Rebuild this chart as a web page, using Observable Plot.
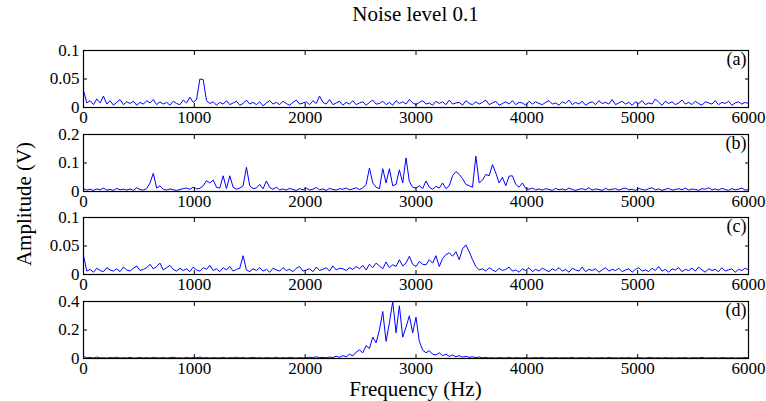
<!DOCTYPE html>
<html><head><meta charset="utf-8">
<script src="https://cdn.jsdelivr.net/npm/d3@7"></script>
<script src="https://cdn.jsdelivr.net/npm/@observablehq/plot@0.6"></script>
<style>
body{margin:0;background:#fff}
#chart{position:relative;width:766px;height:401px;font-family:"Liberation Serif",serif;color:#000;background:#fff;overflow:hidden}
.title{position:absolute;left:83px;width:665px;top:1px;text-align:center;font-size:21px;line-height:26px}
.ylab{position:absolute;left:24px;top:204px;transform:translate(-50%,-50%) rotate(-90deg);font-size:21px;white-space:nowrap}
.xlab{position:absolute;left:83px;width:665px;top:377px;text-align:center;font-size:21px;line-height:24px}
.panel{position:absolute;left:0}
</style></head><body><div id="chart"></div>
<script>
// Frequency samples (Hz), one every 30 Hz
const frequencies = d3.range(0, 6001, 30);
const xTicks = [0, 1000, 2000, 3000, 4000, 5000, 6000];

// Amplitudes in mV
const panelA = [
30,8,12,5,15,8,20,6,12,4,9,14,5,10,7,11,4,9,6,12,
8,14,5,10,6,9,4,11,7,5,13,8,18,9,14,50,49,12,7,10,
4,9,6,12,5,8,11,4,7,13,6,9,5,10,3,8,12,6,9,5,
11,7,4,9,13,6,8,10,5,12,7,20,9,6,14,5,8,11,4,9,
6,12,5,8,10,4,9,13,6,7,11,5,9,4,12,7,10,6,14,8,
5,9,12,6,8,4,11,7,10,5,13,6,8,9,4,12,7,5,10,6,
9,13,5,8,11,4,7,10,6,12,5,9,8,4,11,6,10,7,5,9,
12,6,8,4,10,7,13,5,9,6,11,4,8,10,5,12,7,9,6,14,
5,8,11,6,9,4,10,7,12,5,8,6,15,9,4,11,7,10,5,8,
13,6,9,5,11,7,4,10,8,6,12,5,9,7,11,4,8,10,6,9,
7];
const panelB = [
10,5,8,4,9,6,12,5,7,4,11,6,8,5,9,4,13,7,5,10,
30,64,12,20,8,5,9,6,4,7,10,12,8,15,9,11,20,38,30,40,
15,12,55,10,55,15,8,12,20,85,20,10,12,25,9,37,14,8,15,6,
9,5,11,7,4,10,6,12,5,8,14,6,9,4,11,7,5,10,8,12,
6,9,13,7,12,25,82,30,15,10,80,30,80,20,25,76,30,118,35,15,
12,20,10,37,15,8,18,12,30,10,20,55,70,60,45,25,20,15,124,30,
40,60,55,94,65,30,50,20,54,55,25,15,30,10,8,12,6,9,5,10,
7,4,11,6,9,5,12,7,4,8,10,6,13,5,9,7,4,11,6,8,
10,5,9,12,6,8,4,11,7,5,10,13,6,9,4,8,11,5,7,10,
6,12,5,9,7,4,10,8,13,6,9,5,11,7,4,10,6,8,12,5,
7];
const panelC = [
33,6,9,4,11,7,5,12,8,6,10,5,13,8,6,11,15,7,9,12,
18,10,14,20,8,12,16,9,6,11,7,10,5,13,8,6,12,9,16,7,
10,5,12,8,14,6,9,11,33,8,5,10,7,12,6,9,4,11,8,6,
12,7,9,5,11,14,6,8,10,5,13,7,9,12,6,15,8,11,10,7,
12,9,14,10,16,8,18,12,20,15,10,22,12,17,14,26,15,20,32,18,
14,23,18,17,26,20,33,14,28,35,38,32,40,26,45,52,40,26,14,8,
10,6,12,8,5,11,7,9,13,6,8,4,10,7,12,5,9,6,11,8,
5,10,7,12,6,9,4,11,8,6,13,5,9,7,10,4,8,12,6,9,
7,11,5,8,10,4,9,12,6,8,5,11,7,14,6,9,4,10,8,12,
5,9,7,11,6,13,8,4,10,7,9,5,12,6,8,10,4,9,7,11,
8];
const panelD = [
15,5,8,3,10,4,6,3,7,5,9,3,6,4,8,3,5,7,4,6,
3,8,5,4,7,3,6,9,4,5,3,8,4,6,5,10,4,7,3,6,
5,4,8,3,6,5,9,4,7,3,5,8,4,6,3,7,5,4,9,3,
6,4,8,5,3,7,4,6,9,5,12,6,8,5,10,7,15,9,20,12,
30,18,45,60,40,90,70,150,110,200,330,120,250,400,180,370,150,220,300,180,
290,120,60,40,55,30,25,40,20,30,15,25,12,20,10,15,8,12,6,10,
5,8,4,6,3,7,5,4,8,3,6,5,4,7,3,5,6,4,8,3,
5,4,7,3,6,5,4,8,3,5,6,4,7,3,5,4,6,3,8,4,
5,3,6,4,7,3,5,6,4,3,8,5,4,6,3,7,4,5,3,6,
4,7,3,5,6,4,8,3,5,4,6,3,7,5,4,6,3,5,4,7,
4];

const panelSeries = [panelA, panelB, panelC, panelD];
const panelLabels = ["(a)", "(b)", "(c)", "(d)"];
const panelMax = [0.1, 0.2, 0.1, 0.4];
const panelTicks = [[0, 0.05, 0.1], [0, 0.1, 0.2], [0, 0.05, 0.1], [0, 0.2, 0.4]];
const titleText = "Noise level 0.1";
const xLabelText = "Frequency (Hz)";
const yLabelText = "Amplitude (V)";

const chart = document.getElementById("chart");
const addDiv = (cls, txt) => { const d = document.createElement("div"); d.className = cls; d.textContent = txt; chart.appendChild(d); return d; };
addDiv("title", titleText);

const frameTops = [50, 133.5, 217, 300.5];
const mTop = 8, mBottom = 22, innerH = 57;

panelSeries.forEach((vals, k) => {
  const data = frequencies.map((f, i) => ({f, v: vals[i] / 1000}));
  const svg = Plot.plot({
    width: 766, height: mTop + innerH + mBottom,
    marginLeft: 83, marginRight: 18, marginTop: mTop, marginBottom: mBottom,
    style: {background: "transparent", fontFamily: "'Liberation Serif', serif", fontSize: "16px", color: "#000", overflow: "visible"},
    x: {domain: [0, 6000]},
    y: {domain: [0, panelMax[k]]},
    marks: [
      Plot.lineY(data, {x: "f", y: "v", stroke: "#0000ff", strokeWidth: 1}),
      Plot.frame({stroke: "#000", strokeWidth: 1.2}),
      Plot.axisX(xTicks, {anchor: "bottom", tickSize: 0, tickPadding: 3, label: null, fontSize: 17, tickFormat: d => String(d)}),
      Plot.axisX(xTicks, {anchor: "bottom", tickSize: -4, fill: "none", label: null}),
      Plot.axisX(xTicks, {anchor: "top", tickSize: -4, fill: "none", label: null}),
      Plot.axisY(panelTicks[k], {anchor: "left", tickSize: 0, tickPadding: 4, label: null, fontSize: 17, tickFormat: d => String(d)}),
      Plot.axisY(panelTicks[k], {anchor: "left", tickSize: -4, fill: "none", label: null}),
      Plot.axisY(panelTicks[k], {anchor: "right", tickSize: -4, fill: "none", label: null}),
      Plot.text([panelLabels[k]], {frameAnchor: "top-right", dx: -2, dy: 2, lineAnchor: "top", textAnchor: "end", fontSize: 18})
    ]
  });
  svg.classList.add("panel");
  svg.style.top = (frameTops[k] - mTop) + "px";
  chart.appendChild(svg);
});

addDiv("xlab", xLabelText);
addDiv("ylab", yLabelText);
</script>
</body></html>
